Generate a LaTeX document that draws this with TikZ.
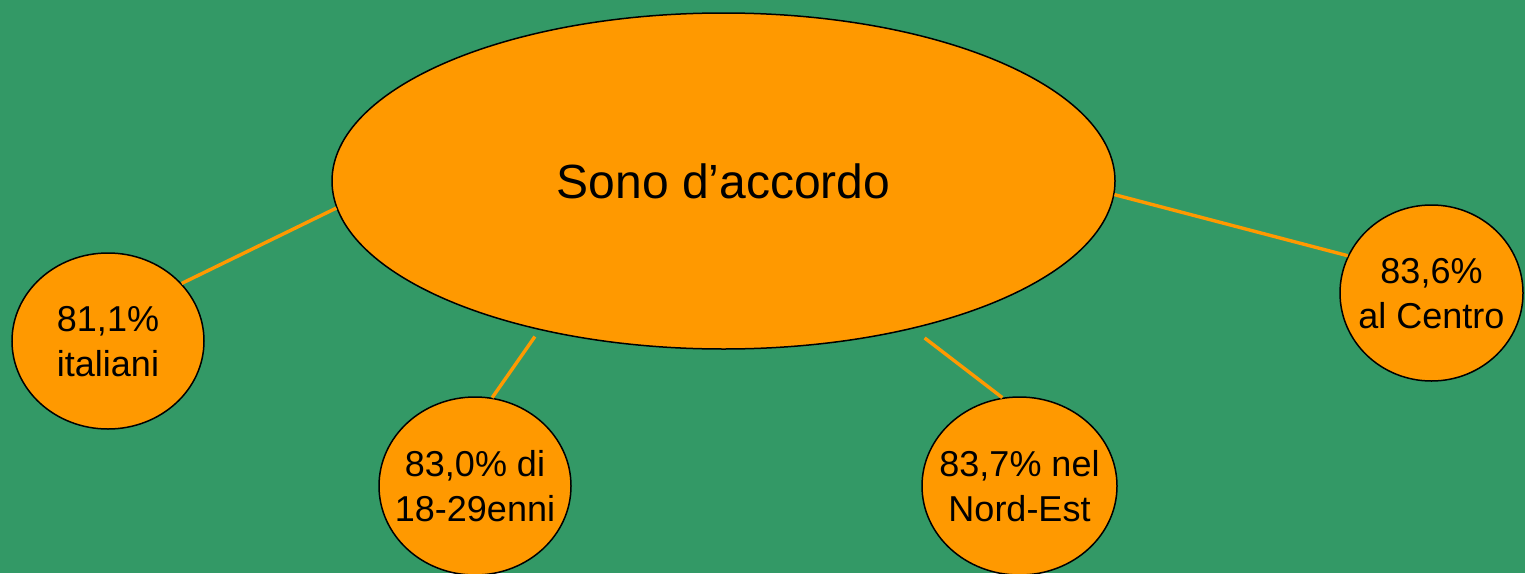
\documentclass[tikz,border=0pt]{standalone}
\usepackage{fontspec}
\setmainfont{Liberation Sans}
\usetikzlibrary{shapes.geometric}
\definecolor{bggreen}{HTML}{339966}
\definecolor{orng}{HTML}{FF9900}
\newcommand{\zw}[2][-10pt]{\makebox[0pt][c]{\smash{\raisebox{#1}{\begin{tabular}{@{}c@{}}#2\end{tabular}}}}}
\begin{document}
\begin{tikzpicture}[x=1pt,y=-1pt,
  bubble/.style={ellipse,draw=black,line width=1.5pt,fill=orng,inner sep=0pt,align=center,
    font=\fontsize{36}{45}\selectfont},
  link/.style={draw=orng,line width=3.4pt}]
\fill[bggreen] (0,0) rectangle (1525,573);
\useasboundingbox (0,0) rectangle (1525,573);
\node[bubble,minimum width=783pt,minimum height=336pt,font=\fontsize{48}{58}\selectfont] (big) at (723.5,181) {\zw[-12pt]{Sono d’accordo}};
\node[bubble,minimum width=192pt,minimum height=176pt] (it) at (108,341) {\zw{81,1\%\\italiani}};
\node[bubble,minimum width=192pt,minimum height=178pt] (yo) at (475,486) {\zw{83,0\% di\\18-29enni}};
\node[bubble,minimum width=195pt,minimum height=178pt] (ne) at (1019.5,486) {\zw{83,7\% nel\\Nord-Est}};
\node[bubble,minimum width=183pt,minimum height=176pt] (ce) at (1431.5,293) {\zw{83,6\%\\al Centro}};
\draw[link] (big.184.5) -- (it.38.5);
\draw[link,shorten <=8pt] (big.219.7) -- (yo.79.7);
\draw[link,shorten <=15pt] (big.322.2) -- (ne.101.1);
\draw[link] (big.358.5) -- (ce.156.1);
\end{tikzpicture}
\end{document}
